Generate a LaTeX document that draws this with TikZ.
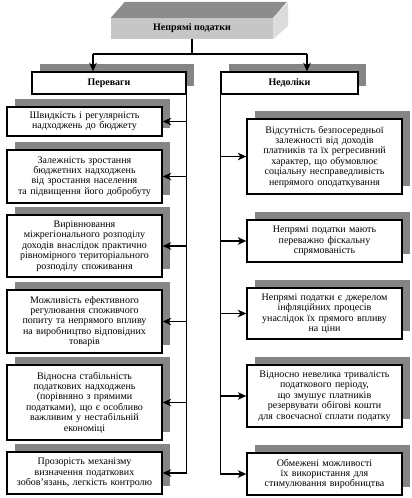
\documentclass[tikz,border=0pt]{standalone}
\usepackage{fontspec}
\setmainfont{Liberation Serif}
\usetikzlibrary{arrows.meta,shadows}
\definecolor{shade}{HTML}{858585}
\definecolor{frontgray}{HTML}{C6C6C6}
\definecolor{topgray}{HTML}{8C8C8C}
\definecolor{sidegray}{HTML}{DCDCDC}
\begin{document}
\begin{tikzpicture}[x=1pt,y=-1pt,
  txt/.style={font=\fontsize{10}{10.4}\selectfont},
  box/.style={txt, draw=black, line width=1.3pt, fill=white, align=center, inner sep=1pt,
    general shadow={draw=none, fill=shade, shadow xshift=8pt, shadow yshift=8pt}},
  sidebox/.style={box, text width=153pt, minimum width=155pt},
  headbox/.style={box, font=\fontsize{10}{10.4}\selectfont\bfseries, minimum height=22pt},
  conn/.style={line width=1.4pt},
  arr/.style={conn, -{Stealth[length=8.5pt,width=7.5pt,inset=2.5pt]}}
]
\useasboundingbox (0,0) rectangle (412,498);

% top 3D box
\node[txt, font=\fontsize{10}{10.4}\selectfont\bfseries, fill=frontgray, minimum width=162pt, minimum height=21pt, inner sep=0pt] (top) at (192,28.5) {Непрямі податки};
\fill[topgray] (top.north west) -- ++(14,-16) -- ++(162,0) -- (top.north east) -- cycle;
\fill[sidegray] (top.north east) -- ++(15,-16) -- ++(0,24) -- (top.south east) -- cycle;

% headers
\node[headbox, minimum width=154pt] (per) at (109,83) {Переваги};
\node[headbox, minimum width=137pt] (ned) at (289.5,83) {Недоліки};

% left boxes
\node[sidebox, minimum height=29pt] (L1) at (84.5,121.5) {Швидкість і регулярність\\надходжень до бюджету};
\node[sidebox, minimum height=53pt] (L2) at (84.5,176.5) {Залежність зростання\\бюджетних надходжень\\від зростання населення\\та підвищення його добробуту};
\node[sidebox, minimum height=62pt] (L3) at (84.5,246) {Вирівнювання\\міжрегіонального розподілу\\доходів внаслідок практично\\рівномірного територіального\\розподілу споживання};
\node[sidebox, minimum height=63pt] (L4) at (84.5,321.5) {Можливість ефективного\\регулювання споживчого\\попиту та непрямого впливу\\на виробництво відповідних\\товарів};
\node[sidebox, minimum height=75pt] (L5) at (84.5,402.5) {Відносна стабільність\\податкових надходжень\\(порівняно з прямими\\податками), що є особливо\\важливим у нестабільній\\економіці};
\node[sidebox, minimum height=42pt] (L6) at (84.5,473) {Прозорість механізму\\визначення податкових\\зобов’язань, легкість контролю};

% right boxes
\node[sidebox, minimum height=75pt] (R1) at (324.5,156.5) {Відсутність безпосередньої\\залежності від доходів\\платників та їх регресивний\\характер, що обумовлює\\соціальну несправедливість\\непрямого оподаткування};
\node[sidebox, minimum height=42pt] (R2) at (324.5,241) {Непрямі податки мають\\переважно фіскальну\\спрямованість};
\node[sidebox, minimum height=51pt] (R3) at (324.5,313.5) {Непрямі податки є джерелом\\інфляційних процесів\\унаслідок їх прямого впливу\\на ціни};
\node[sidebox, minimum height=62pt] (R4) at (324.5,396) {Відносно невелика тривалість\\податкового періоду,\\що змушує платників\\резервувати обігові кошти\\для своєчасної сплати податку};
\node[sidebox, minimum height=42pt] (R5) at (324.5,474) {Обмежені можливості\\їх використання для\\стимулювання виробництва};

% top connectors
\coordinate (jL) at (93,54);
\coordinate (jR) at (307,54);
\draw[conn] (top.south) -- (top.south |- jL);
\draw[conn] (jL) -- (jR);
\draw[arr] (jL) -- (jL |- per.north);
\draw[arr] (jR) -- (jR |- ned.north);

% left spine
\draw[arr] (per.south east) -- (per.south east |- L6.east) -- (L6.east);
\foreach \b in {L1,L2,L3,L4,L5}
  \draw[arr] (per.south east |- \b.east) -- (\b.east);

% right spine
\draw[arr] (ned.south west) -- (ned.south west |- R5.west) -- (R5.west);
\foreach \b in {R1,R2,R3,R4}
  \draw[arr] (ned.south west |- \b.west) -- (\b.west);
\end{tikzpicture}
\end{document}
